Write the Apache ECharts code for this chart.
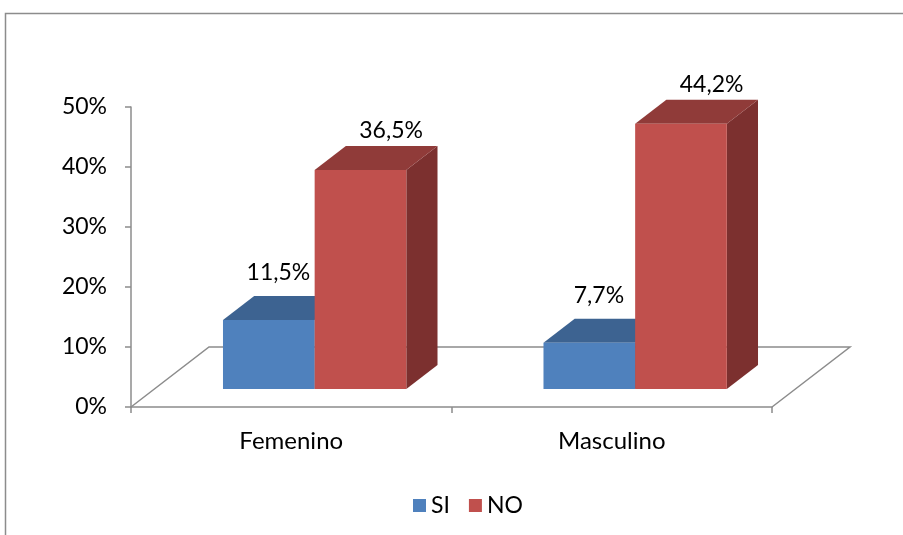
<!DOCTYPE html>
<html>
<head>
<meta charset="utf-8">
<script src="https://cdn.jsdelivr.net/npm/echarts@6/dist/echarts.min.js"></script>
<style>
  html, body { margin: 0; padding: 0; background: #fff; overflow: hidden; }
  #chart { width: 903px; height: 535px; }
</style>
</head>
<body>
<div id="chart"></div>
<script>
// Categories and series values (percent)
const categories = ['Femenino', 'Masculino'];
const seriesNames = ['SI', 'NO'];
const siValues = [11.5, 7.7];
const noValues = [36.5, 44.2];
const yTicks = [0, 10, 20, 30, 40, 50];

const FONT = 'Lato, "Open Sans", sans-serif';

// Face colours for each series: front, top, side
const palette = {
  SI: { front: '#4F81BD', top: '#3D6391', side: '#345580' },
  NO: { front: '#C0504D', top: '#903B39', side: '#7C302F' }
};

// Oblique projection of the floor depth (pixels)
const DEPTH = [78, -60];
const BAR_FRONT = 0.3;   // fraction of floor depth where bar fronts sit
const BAR_DEPTH = 0.4;   // fraction of floor depth occupied by bars
const BAR_SHARE = 0.286; // bar width as fraction of category band

const fmt = v => v.toFixed(1).replace('.', ',') + '%';

function barRenderer(seriesIdx, labelOffset) {
  return function (params, api) {
    const cat = api.value(0);
    const val = api.value(1);
    const top = api.coord([cat, val]);
    const base = api.coord([cat, 0]);
    const band = api.size([1, 0])[0];
    const w = band * BAR_SHARE;
    const fx = DEPTH[0] * BAR_FRONT, fy = DEPTH[1] * BAR_FRONT;
    const dx = DEPTH[0] * BAR_DEPTH, dy = DEPTH[1] * BAR_DEPTH;
    const left = top[0] + fx - (seriesIdx === 0 ? w : 0);
    const right = left + w;
    const yTop = top[1] + fy;
    const yBot = base[1] + fy;
    const col = palette[seriesNames[seriesIdx]];
    return {
      type: 'group',
      children: [
        { type: 'polygon', shape: { points: [[right, yTop], [right + dx, yTop + dy], [right + dx, yBot + dy], [right, yBot]] },
          style: { fill: col.side } },
        { type: 'polygon', shape: { points: [[left, yTop], [right, yTop], [right + dx, yTop + dy], [left + dx, yTop + dy]] },
          style: { fill: col.top } },
        { type: 'rect', shape: { x: left, y: yTop, width: w, height: yBot - yTop },
          style: { fill: col.front } },
        { type: 'text',
          x: (left + right) / 2 + dx / 2 + labelOffset[0],
          y: yTop + dy / 2 + labelOffset[1],
          style: { text: fmt(val), fill: '#000', font: '23px ' + FONT, align: 'center', verticalAlign: 'middle' } }
      ]
    };
  };
}

function floorRenderer(params, api) {
  const band = api.size([1, 0])[0];
  const a = api.coord([0, 0]);
  const b = api.coord([categories.length - 1, 0]);
  const x0 = a[0] - band / 2, x1 = b[0] + band / 2, y = a[1];
  return {
    type: 'polyline',
    shape: { points: [[x0, y], [x0 + DEPTH[0], y + DEPTH[1]], [x1 + DEPTH[0], y + DEPTH[1]], [x1, y]] },
    style: { stroke: '#8C8C8C', lineWidth: 1.5, fill: null }
  };
}

const chart = echarts.init(document.getElementById('chart'));
chart.setOption({
  backgroundColor: '#fff',
  animation: false,
  graphic: [{
    type: 'polyline', silent: true, z: -10,
    shape: { points: [[5.5, 540], [5.5, 13.5], [910, 13.5]] },
    style: { fill: null, stroke: '#8C8C8C', lineWidth: 1.5 }
  }],
  grid: { left: 131, top: 107, width: 641, height: 300 },
  legend: {
    data: seriesNames,
    top: 489,
    left: 408,
    icon: 'rect',
    itemWidth: 13,
    itemHeight: 13,
    itemGap: 19,
    textStyle: { fontFamily: FONT, fontSize: 23, color: '#000' }
  },
  xAxis: {
    type: 'category',
    data: categories,
    boundaryGap: true,
    axisLine: { lineStyle: { color: '#8C8C8C', width: 1.5 } },
    axisTick: { show: true, length: 6, lineStyle: { color: '#8C8C8C', width: 1.5 } },
    axisLabel: { margin: 22, fontFamily: FONT, fontSize: 24, color: '#000' }
  },
  yAxis: {
    type: 'value',
    min: 0, max: 50, interval: 10,
    splitLine: { show: false },
    axisLine: { show: true, lineStyle: { color: '#8C8C8C', width: 1.5 } },
    axisTick: { show: true, length: 6, lineStyle: { color: '#8C8C8C', width: 1.5 } },
    axisLabel: { margin: 24, fontFamily: FONT, fontSize: 23, color: '#000',
      formatter: v => yTicks.includes(v) ? v + '%' : '' }
  },
  series: [
    { type: 'custom', name: 'floor', renderItem: floorRenderer, data: [[0, 0]], z: 1, silent: true,
      encode: { x: 0, y: 1 } },
    { type: 'custom', name: 'SI', renderItem: barRenderer(0, [-6, -35]), z: 2,
      itemStyle: { color: palette.SI.front },
      data: siValues.map((v, i) => [i, v]), encode: { x: 0, y: 1 } },
    { type: 'custom', name: 'NO', renderItem: barRenderer(1, [15, -27]), z: 3,
      itemStyle: { color: palette.NO.front },
      data: noValues.map((v, i) => [i, v]), encode: { x: 0, y: 1 } }
  ]
});
</script>
</body>
</html>
